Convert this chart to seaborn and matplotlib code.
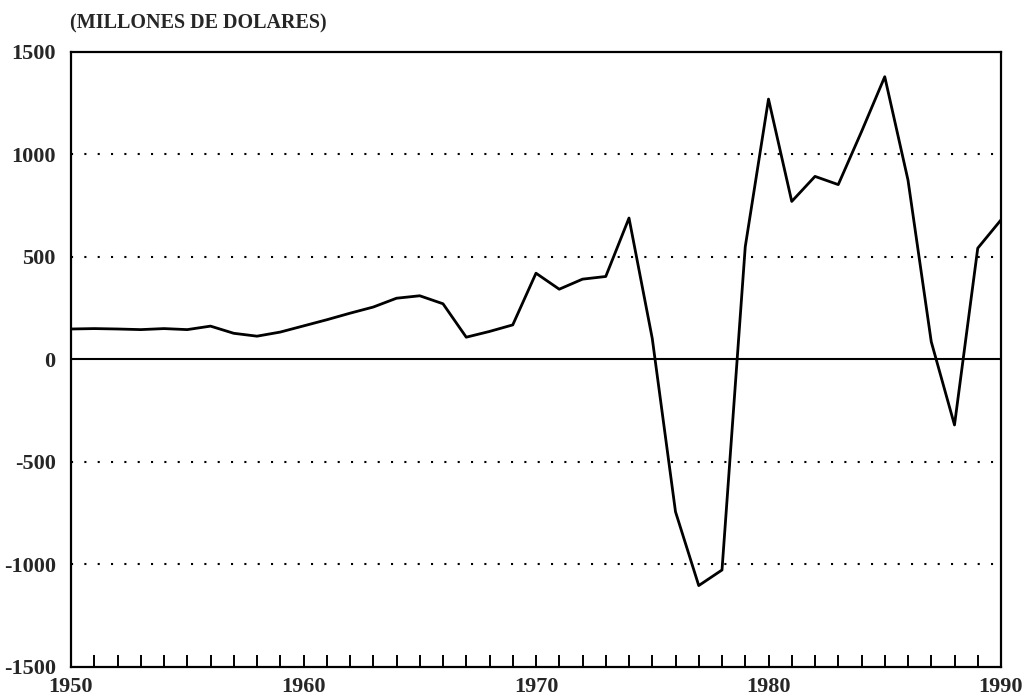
import matplotlib
matplotlib.use("Agg")
import matplotlib.pyplot as plt
import seaborn as sns
import pandas as pd
import numpy as np

years = list(range(1950, 1991))
values = [148, 150, 148, 145, 150, 145, 162, 127, 113, 133,
          163, 193, 225, 255, 298, 310, 271, 108, 136, 168,
          420, 342, 391, 404, 689, 102, -743, -1103, -1027, 549,
          1269, 770, 892, 852, 1110, 1378, 874, 86, -320, 542,
          680]
y_ticks = [-1500, -1000, -500, 0, 500, 1000, 1500]
x_labels = [1950, 1960, 1970, 1980, 1990]
dotted_levels = [-1000, -500, 500, 1000]
title = "(MILLONES DE DOLARES)"

df = pd.DataFrame({"year": years, "value": values})

sns.set_style("white")
plt.rcParams["font.family"] = ["Liberation Serif", "DejaVu Serif"]
plt.rcParams["font.weight"] = "bold"
plt.rcParams["axes.unicode_minus"] = False

fig = plt.figure(figsize=(10.3, 6.99), dpi=100)
ax = fig.add_axes([71/1030, 1 - 667/699, (1001-71)/1030, (667-51.7)/699])

for lv in dotted_levels:
    ax.axhline(lv, color="black", lw=1.5, linestyle=(0, (1, 5.4)), zorder=1)
ax.axhline(0, color="black", lw=1.5, zorder=1)

sns.lineplot(data=df, x="year", y="value", ax=ax, color="black", lw=2.0, zorder=3)

ax.set_xlim(1950, 1990)
ax.set_ylim(-1500, 1500)
ax.set_yticks(y_ticks)
ax.set_yticklabels([str(v) for v in y_ticks], fontsize=16, fontweight="bold")
ax.set_xticks(x_labels)
ax.set_xticklabels([str(v) for v in x_labels], fontsize=16, fontweight="bold")
ax.set_xticks(years, minor=True)
ax.tick_params(axis="x", which="both", direction="in", length=9, width=1.4,
               color="black", pad=7, bottom=True, top=False)
ax.tick_params(axis="y", which="both", length=0, pad=11)
ax.set_xlabel("")
ax.set_ylabel("")
for sp in ax.spines.values():
    sp.set_visible(True)
    sp.set_color("black")
    sp.set_linewidth(1.6)

fig.text(70/1030, 1 - 23/699, title, fontsize=14.5, fontweight="bold",
         ha="left", va="center")

fig.savefig("out.png", dpi=100)
